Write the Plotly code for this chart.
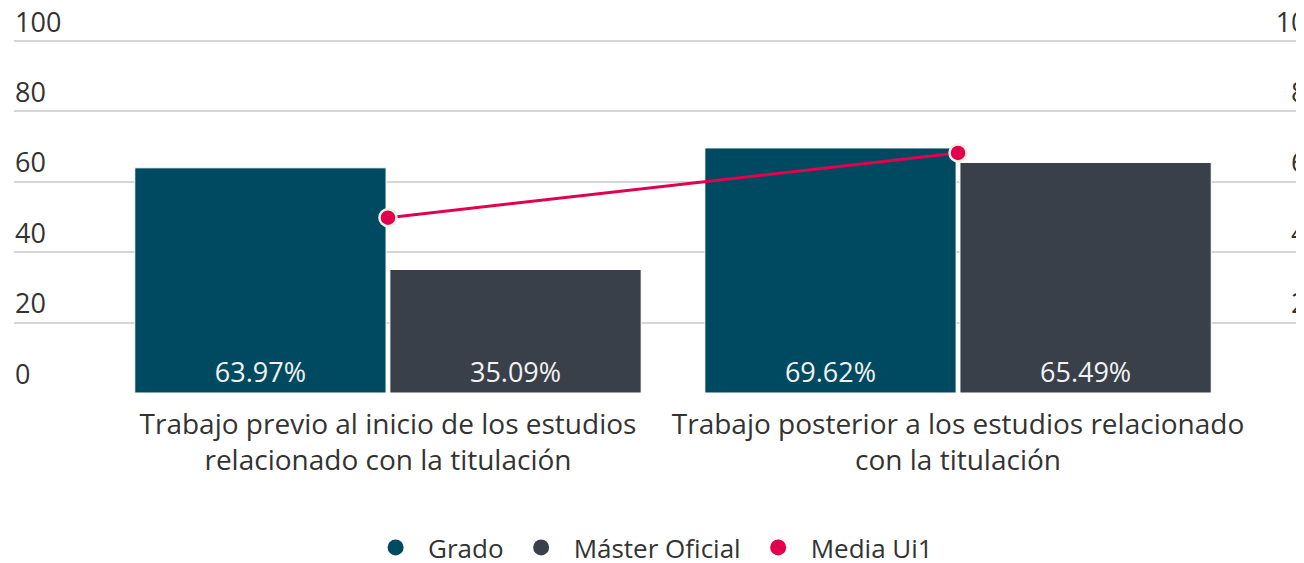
import plotly.graph_objects as go

categories = ["Trabajo previo al inicio de los estudios<br>relacionado con la titulación",
              "Trabajo posterior a los estudios relacionado<br>con la titulación"]
grado = [63.97, 69.62]
master = [35.09, 65.49]
media = [49.8, 68.2]
y_ticks = [0, 20, 40, 60, 80, 100]

C_GRADO = "#004a61"
C_MASTER = "#3a4049"
C_MEDIA = "#e2004f"
FONT = "Open Sans"
TXT = "#333333"

Y_RANGE = [0, 100.85]
X_RANGE = [-0.656, 1.656]

fig = go.Figure()
fig.add_trace(go.Bar(x=categories, y=grado, name="Grado", marker=dict(color=C_GRADO, line=dict(color="white", width=1)),
                     texttemplate="%{y:.2f}%", textposition="inside", insidetextanchor="start",
                     textfont=dict(color="#f2f2f2", size=27, family=FONT), showlegend=False))
fig.add_trace(go.Bar(x=categories, y=master, name="Máster Oficial", marker=dict(color=C_MASTER, line=dict(color="white", width=1)),
                     texttemplate="%{y:.2f}%", textposition="inside", insidetextanchor="start",
                     textfont=dict(color="#f2f2f2", size=27, family=FONT), showlegend=False))
fig.add_trace(go.Scatter(x=categories, y=media, name="Media Ui1", mode="lines+markers", yaxis="y2",
                         line=dict(color=C_MEDIA, width=3),
                         marker=dict(color=C_MEDIA, size=17, line=dict(color="#f0f0e4", width=2.5)),
                         showlegend=False))
# legend entries
for name, col in [("Grado", C_GRADO), ("Máster Oficial", C_MASTER), ("Media Ui1", C_MEDIA)]:
    fig.add_trace(go.Scatter(x=[None], y=[None], mode="markers", name=name,
                             marker=dict(color=col, size=30, symbol="circle")))

fig.update_layout(
    width=1324, height=563,
    margin=dict(l=6, r=0, t=30, b=178),
    plot_bgcolor="white", paper_bgcolor="white",
    barmode="group", bargap=0.105, bargroupgap=0.015,
    font=dict(family=FONT, color=TXT, size=26),
    xaxis=dict(range=X_RANGE, showgrid=False, zeroline=False, showline=False, ticks="",
               automargin=False, ticklabelstandoff=12,
               tickfont=dict(size=28, color=TXT, family=FONT)),
    yaxis=dict(range=Y_RANGE, tickvals=y_ticks, showgrid=True, gridcolor="#d6d6d6", gridwidth=2,
               zeroline=False, showline=False, ticks="", ticklabelposition="inside top",
               ticklabeloverflow="allow",
               ticklabelstandoff=-2, ticklabelshift=0, automargin=False,
               tickfont=dict(size=27, color=TXT, family=FONT)),
    yaxis2=dict(range=Y_RANGE, tickvals=y_ticks, overlaying="y", side="right", showgrid=False,
                zeroline=False, showline=False, ticks="", ticklabelposition="inside top",
                ticklabeloverflow="allow",
                ticklabelstandoff=7, ticklabelshift=0, automargin=False,
                tickfont=dict(size=27, color=TXT, family=FONT)),
    legend=dict(orientation="h", x=0.483, xanchor="center", y=-0.436, yanchor="middle",
                itemwidth=55,
                font=dict(size=26, color=TXT, family=FONT), itemsizing="trace"),
)
fig.write_html("out.html")
